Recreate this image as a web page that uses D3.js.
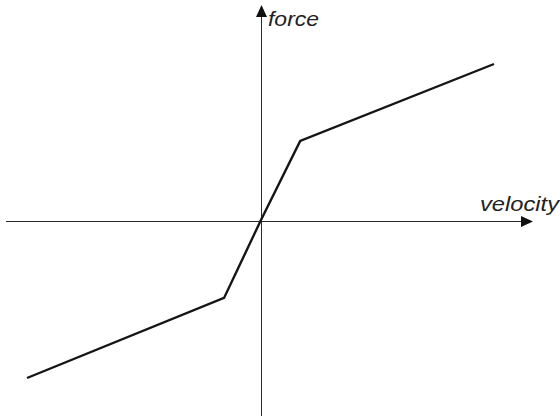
<!DOCTYPE html>
<html><head><meta charset="utf-8">
<script src="https://cdn.jsdelivr.net/npm/d3@7"></script>
<style>html,body{margin:0;padding:0;background:#fff;}svg{display:block;}</style>
</head><body>
<svg id="chart" width="560" height="418"></svg>
<script>
// Data
const velocity = [-1, -0.156, 0, 0.17, 1];
const force = [-1, -0.49, 0, 0.51, 1];
const xAxisExtent = [-1.09, 1.167];
const yAxisExtent = [-1.242, 1.376];
const axisLabels = ["velocity", "force"];

const svg = d3.select("#chart");
const x = d3.scaleLinear().domain([-1, 1]).range([27, 494]);
const y = d3.scaleLinear().domain([-1, 1]).range([378, 64]);

const x0 = Math.round(x(0)) + 0.5, y0 = Math.round(y(0)) + 0.5;
const axisColor = "#2b2b2b";
const ah = 12, aw = 5.5;

// x axis
const xr = x(xAxisExtent[1]);
svg.append("line").attr("x1", x(xAxisExtent[0])).attr("x2", xr - ah + 1)
  .attr("y1", y0).attr("y2", y0).attr("stroke", axisColor).attr("stroke-width", 1);
svg.append("path").attr("d", `M${xr},${y0}L${xr-ah},${y0-aw}L${xr-ah},${y0+aw}Z`).attr("fill", "#111");

// y axis
const yt = y(yAxisExtent[1]);
svg.append("line").attr("x1", x0).attr("x2", x0)
  .attr("y1", y(yAxisExtent[0])).attr("y2", yt + ah - 1).attr("stroke", axisColor).attr("stroke-width", 1);
svg.append("path").attr("d", `M${x0},${yt}L${x0-aw},${yt+ah}L${x0+aw},${yt+ah}Z`).attr("fill", "#111");

// curve
const pts = velocity.map((v, i) => [v, force[i]]);
svg.append("path").datum(pts)
  .attr("d", d3.line().x(d => x(d[0])).y(d => y(d[1])))
  .attr("fill", "none").attr("stroke", "#151515").attr("stroke-width", 2.4)
  .attr("stroke-linejoin", "miter");

// labels
svg.append("text").text(axisLabels[0]).attr("x", 480).attr("y", 211)
  .attr("font-family", "Liberation Sans, Arial, sans-serif").attr("font-style", "italic")
  .attr("font-size", 20).attr("fill", "#222")
  .attr("textLength", 79).attr("lengthAdjust", "spacingAndGlyphs");
svg.append("text").text(axisLabels[1]).attr("x", 268).attr("y", 26)
  .attr("font-family", "Liberation Sans, Arial, sans-serif").attr("font-style", "italic")
  .attr("font-size", 20).attr("fill", "#222")
  .attr("textLength", 51).attr("lengthAdjust", "spacingAndGlyphs");
</script>
</body></html>
